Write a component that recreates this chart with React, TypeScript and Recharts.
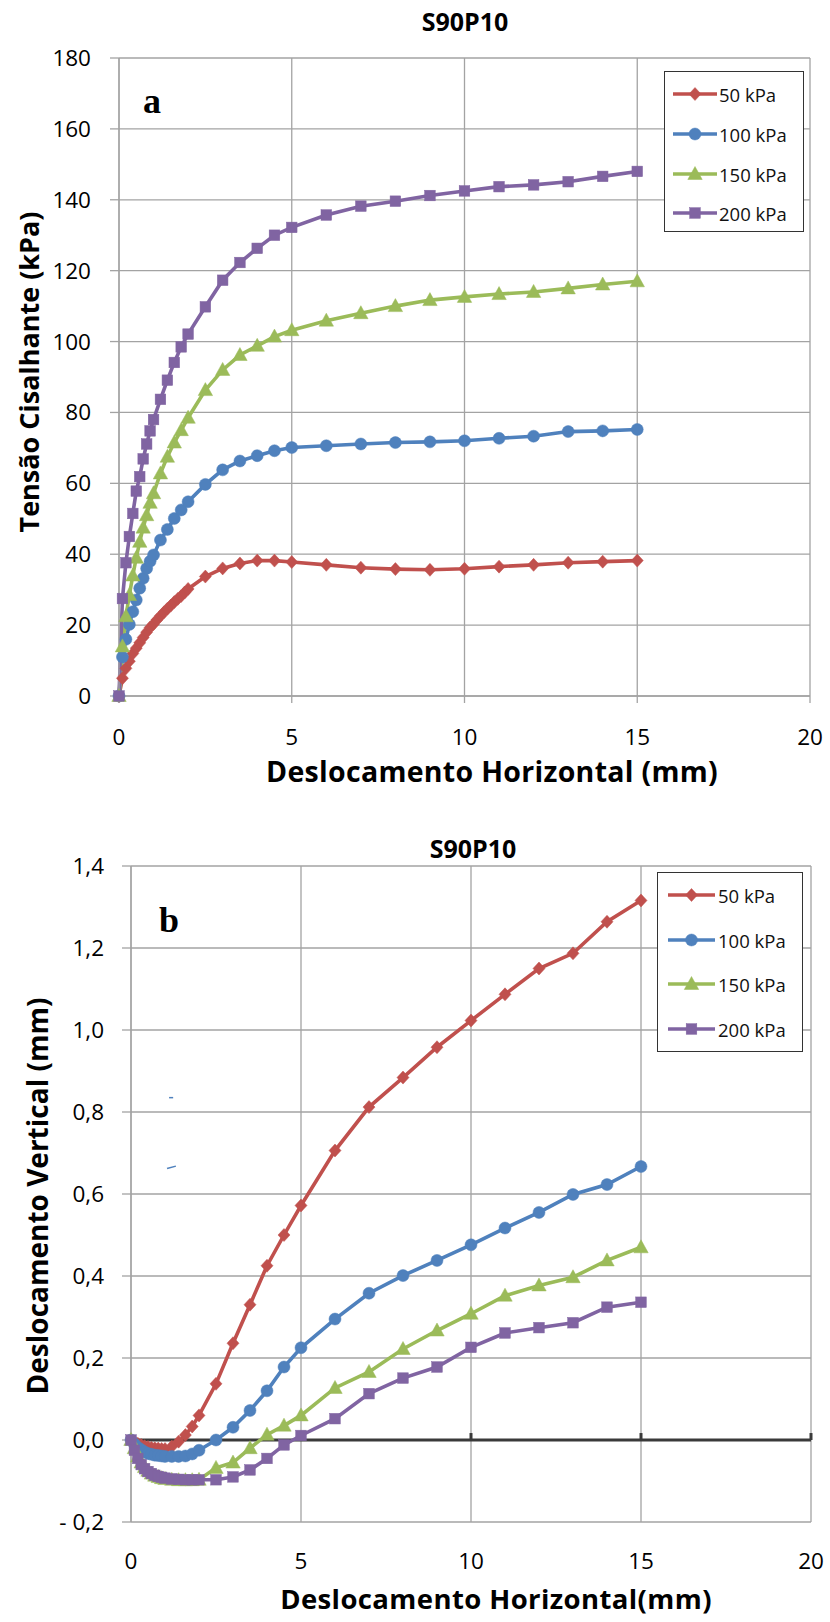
import React from 'react';
import { LineChart, Line, XAxis, YAxis, CartesianGrid, Legend, ReferenceLine } from 'recharts';

// ---------- Chart a : shear stress vs horizontal displacement ----------
const xShear = [0, 0.1, 0.2, 0.3, 0.4, 0.5, 0.6, 0.7, 0.8, 0.9, 1.0, 1.2, 1.4, 1.6, 1.8, 2.0, 2.5, 3, 3.5, 4, 4.5, 5, 6, 7, 8, 9, 10, 11, 12, 13, 14, 15];
const xShear50 = [0, 0.1, 0.2, 0.3, 0.4, 0.5, 0.6, 0.7, 0.8, 0.9, 1.0, 1.1, 1.2, 1.3, 1.4, 1.5, 1.6, 1.7, 1.8, 1.9, 2.0, 2.5, 3, 3.5, 4, 4.5, 5, 6, 7, 8, 9, 10, 11, 12, 13, 14, 15];
const shear50 = [0, 5, 7.8, 9.8, 12, 13.5, 15, 16.5, 18, 19.3, 20.3, 21.5, 22.6, 23.6, 24.6, 25.5, 26.5, 27.4, 28.2, 29.2, 30.2, 33.7, 36, 37.4, 38.2, 38.2, 37.8, 37, 36.2, 35.8, 35.6, 35.9, 36.5, 37, 37.6, 37.9, 38.2];
const shear100 = [0, 11, 16, 20.2, 23.8, 27.1, 30.4, 33.2, 36, 38, 39.8, 44, 47, 50.1, 52.5, 54.8, 59.7, 63.8, 66.3, 67.8, 69.2, 70.1, 70.6, 71.1, 71.5, 71.7, 72, 72.7, 73.3, 74.6, 74.8, 75.2];
const shear150 = [0, 14, 22.5, 28.5, 34, 39, 43.5, 47.5, 51, 54.5, 57.2, 62.8, 67.5, 71.5, 75, 78.5, 86.3, 92, 96.2, 98.8, 101.4, 103.2, 105.9, 108, 110, 111.7, 112.6, 113.4, 114, 115, 116.1, 117];
const shear200 = [0, 27.5, 37.6, 45, 51.5, 57.8, 61.9, 66.9, 71.1, 74.8, 78, 83.7, 89.1, 94.1, 98.5, 102.1, 109.8, 117.3, 122.3, 126.3, 130, 132.2, 135.7, 138.2, 139.6, 141.2, 142.5, 143.7, 144.2, 145.1, 146.6, 148];

// ---------- Chart b : vertical vs horizontal displacement ----------
const xVert = [0, 0.1, 0.2, 0.3, 0.4, 0.5, 0.6, 0.7, 0.8, 0.9, 1.0, 1.2, 1.4, 1.6, 1.8, 2.0, 2.5, 3, 3.5, 4, 4.5, 5, 6, 7, 8, 9, 10, 11, 12, 13, 14, 15];
const vert50 = [0, -0.005, -0.009, -0.012, -0.015, -0.017, -0.019, -0.02, -0.021, -0.022, -0.022, -0.016, -0.004, 0.012, 0.033, 0.06, 0.137, 0.236, 0.33, 0.425, 0.5, 0.572, 0.706, 0.812, 0.884, 0.958, 1.023, 1.087, 1.15, 1.187, 1.264, 1.316];
const vert100 = [0, -0.01, -0.018, -0.024, -0.029, -0.033, -0.035, -0.037, -0.038, -0.039, -0.04, -0.04, -0.04, -0.039, -0.034, -0.025, 0.0, 0.031, 0.072, 0.12, 0.178, 0.225, 0.295, 0.358, 0.401, 0.438, 0.476, 0.517, 0.555, 0.599, 0.623, 0.667];
const vert150 = [0, -0.02, -0.04, -0.055, -0.066, -0.075, -0.082, -0.087, -0.09, -0.093, -0.095, -0.097, -0.098, -0.098, -0.098, -0.097, -0.068, -0.055, -0.02, 0.013, 0.035, 0.06, 0.127, 0.166, 0.222, 0.267, 0.308, 0.352, 0.377, 0.397, 0.438, 0.47];
const vert200 = [0, -0.025, -0.045, -0.06, -0.07, -0.077, -0.082, -0.086, -0.089, -0.091, -0.093, -0.095, -0.096, -0.097, -0.097, -0.097, -0.097, -0.09, -0.073, -0.045, -0.012, 0.011, 0.052, 0.113, 0.151, 0.178, 0.226, 0.261, 0.274, 0.286, 0.324, 0.336];

const seriesNames = ['50 kPa', '100 kPa', '150 kPa', '200 kPa'];
const xTicks = [0, 5, 10, 15, 20];
const shearTicks = [0, 20, 40, 60, 80, 100, 120, 140, 160, 180];
const vertTicks = [-0.2, 0, 0.2, 0.4, 0.6, 0.8, 1.0, 1.2, 1.4];
const zeroLineTicks = [5, 10, 15, 20];
// two stray blue dashes visible in the original chart b
const strayDashA = [{ x: 1.12, y: 0.835 }, { x: 1.24, y: 0.835 }];
const strayDashB = [{ x: 1.06, y: 0.662 }, { x: 1.32, y: 0.668 }];

const COLORS = ['#C0504D', '#4F81BD', '#9BBB59', '#8064A2'];
const SHAPES = ['diamond', 'circle', 'triangle', 'square'];
const FONT = '"Open Sans", "DejaVu Sans", sans-serif';
const GRID = '#a3a3a3';

const toRows = (xs: number[], ys: number[]) => xs.map((x, i) => ({ x, y: ys[i] }));

function markerEl(shape: string, color: string, cx: number, cy: number, key?: string) {
  if (shape === 'diamond') {
    return <path key={key} d={`M${cx},${cy - 6.5}L${cx + 6},${cy}L${cx},${cy + 6.5}L${cx - 6},${cy}Z`} fill={color} stroke={color} strokeWidth={0.5} />;
  }
  if (shape === 'circle') {
    return <circle key={key} cx={cx} cy={cy} r={6} fill={color} stroke={color} strokeWidth={0.5} />;
  }
  if (shape === 'triangle') {
    return <path key={key} d={`M${cx},${cy - 7.5}L${cx + 7.2},${cy + 5.5}L${cx - 7.2},${cy + 5.5}Z`} fill={color} stroke={color} strokeWidth={0.5} />;
  }
  return <rect key={key} x={cx - 5.3} y={cy - 5.3} width={10.6} height={10.6} fill={color} stroke={color} strokeWidth={0.5} />;
}

const makeDot = (shape: string, color: string) => (props: any) => {
  const { cx, cy, index } = props;
  if (cx == null || cy == null) return <g key={`e-${index}`} />;
  return markerEl(shape, color, cx, cy, `d-${shape}-${index}`);
};

const makeLegend = (box: { w: number; h: number; rows: number[]; lineX1: number; lineX2: number; textX: number }) => () => (
  <div style={{ position: 'relative', width: box.w, height: box.h, border: '1.3px solid #333', background: '#fff', boxSizing: 'border-box' }}>
    {seriesNames.map((name, i) => (
      <div key={name} style={{ position: 'absolute', left: 0, top: box.rows[i] - 12, height: 24, width: box.w, display: 'flex', alignItems: 'center' }}>
        <svg width={box.textX} height={24} style={{ display: 'block' }}>
          <line x1={box.lineX1} x2={box.lineX2} y1={12} y2={12} stroke={COLORS[i]} strokeWidth={3.5} />
          {markerEl(SHAPES[i], COLORS[i], (box.lineX1 + box.lineX2) / 2, 12)}
        </svg>
        <span style={{ fontFamily: FONT, fontSize: 18.5, color: '#111', letterSpacing: 0, whiteSpace: 'nowrap' }}>{name}</span>
      </div>
    ))}
  </div>
);

const fmtComma = (v: number) => {
  const s = Math.abs(v).toFixed(1).replace('.', ',');
  return v < -1e-9 ? `- ${s}` : s;
};

const textStyleBase: React.CSSProperties = { position: 'absolute', fontFamily: FONT, color: '#000', whiteSpace: 'nowrap', lineHeight: 1 };

const centered = (x: number, y: number, extra: React.CSSProperties = {}): React.CSSProperties => ({
  ...textStyleBase,
  left: x,
  top: y,
  transform: 'translate(-50%, -50%)',
  ...extra,
});

const rotated = (x: number, y: number, extra: React.CSSProperties = {}): React.CSSProperties => ({
  ...textStyleBase,
  left: x,
  top: y,
  transform: 'translate(-50%, -50%) rotate(-90deg)',
  ...extra,
});

const tickStyle = { fill: '#000', fontSize: 22.5, fontFamily: FONT };

export default function App() {
  const shearSeries = [toRows(xShear50, shear50), toRows(xShear, shear100), toRows(xShear, shear150), toRows(xShear, shear200)];
  const vertSeries = [toRows(xVert, vert50), toRows(xVert, vert100), toRows(xVert, vert150), toRows(xVert, vert200)];

  return (
    <div style={{ position: 'absolute', left: 0, top: 0, width: 830, height: 1622, background: '#fff', overflow: 'hidden' }}>
      {/* ---------------- Chart a ---------------- */}
      <div style={{ position: 'absolute', left: 0, top: 0, width: 830, height: 800 }}>
        <LineChart width={830} height={800} margin={{ top: 58, right: 20, bottom: 0, left: 0 }}>
          <CartesianGrid stroke={GRID} strokeWidth={1.3} />
          <XAxis
            type="number"
            dataKey="x"
            domain={[0, 20]}
            ticks={xTicks}
            height={104}
            tick={tickStyle}
            tickSize={7}
            tickMargin={26}
            stroke={GRID}
            strokeWidth={1.3}
            allowDuplicatedCategory={false}
          />
          <YAxis
            type="number"
            domain={[0, 180]}
            ticks={shearTicks}
            width={119}
            tick={tickStyle}
            tickSize={9}
            tickMargin={19}
            stroke={GRID}
            strokeWidth={1.3}
          />
          {shearSeries.map((rows, i) => (
            <Line
              key={seriesNames[i]}
              data={rows}
              dataKey="y"
              name={seriesNames[i]}
              type="linear"
              stroke={COLORS[i]}
              strokeWidth={3.6}
              dot={makeDot(SHAPES[i], COLORS[i])}
              activeDot={false}
              isAnimationActive={false}
            />
          ))}
          <Legend
            layout="vertical"
            align="center"
            verticalAlign="middle"
            content={makeLegend({ w: 140, h: 161, rows: [22, 62, 102, 141], lineX1: 8, lineX2: 52, textX: 54 })}
            wrapperStyle={{ position: 'absolute', left: 664, top: 71, width: 140, height: 161, margin: 0 }}
          />
        </LineChart>
        <div style={centered(465, 21, { fontSize: 25, fontWeight: 700 })}>S90P10</div>
        <div style={centered(152, 101, { fontFamily: '"Liberation Serif", "DejaVu Serif", serif', fontSize: 36, fontWeight: 700 })}>a</div>
        <div style={centered(492, 771, { fontSize: 28.5, fontWeight: 700, letterSpacing: 0.3 })}>Deslocamento Horizontal (mm)</div>
        <div style={rotated(28, 372, { fontSize: 27, fontWeight: 700 })}>Tensão Cisalhante (kPa)</div>
      </div>

      {/* ---------------- Chart b ---------------- */}
      <div style={{ position: 'absolute', left: 0, top: 800, width: 830, height: 822 }}>
        <LineChart width={830} height={822} margin={{ top: 66, right: 19, bottom: 0, left: 0 }}>
          <CartesianGrid stroke={GRID} strokeWidth={1.3} />
          <XAxis
            type="number"
            dataKey="x"
            domain={[0, 20]}
            ticks={xTicks}
            height={100}
            tick={tickStyle}
            tickLine={false}
            axisLine={false}
            tickSize={0}
            tickMargin={31}
            allowDuplicatedCategory={false}
          />
          <YAxis
            type="number"
            domain={[-0.2, 1.4]}
            ticks={vertTicks}
            width={131}
            tick={tickStyle}
            tickSize={9}
            tickMargin={18}
            tickFormatter={fmtComma}
            stroke={GRID}
            strokeWidth={1.3}
          />
          <ReferenceLine y={0} stroke="#3a3a3a" strokeWidth={3} ifOverflow="visible" />
          {zeroLineTicks.map((t) => (
            <ReferenceLine
              key={`zt-${t}`}
              segment={[{ x: t, y: 0 }, { x: t, y: 0.017 }]}
              stroke="#3a3a3a"
              strokeWidth={3}
              ifOverflow="visible"
            />
          ))}
          <ReferenceLine segment={strayDashA} stroke="#4F81BD" strokeWidth={1.5} />
          <ReferenceLine segment={strayDashB} stroke="#4F81BD" strokeWidth={1.5} />
          {vertSeries.map((rows, i) => (
            <Line
              key={seriesNames[i]}
              data={rows}
              dataKey="y"
              name={seriesNames[i]}
              type="linear"
              stroke={COLORS[i]}
              strokeWidth={3.6}
              dot={makeDot(SHAPES[i], COLORS[i])}
              activeDot={false}
              isAnimationActive={false}
            />
          ))}
          <Legend
            layout="vertical"
            align="center"
            verticalAlign="middle"
            content={makeLegend({ w: 146, h: 180, rows: [22, 67, 111, 156], lineX1: 10, lineX2: 57, textX: 60 })}
            wrapperStyle={{ position: 'absolute', left: 657, top: 72, width: 146, height: 180, margin: 0 }}
          />
        </LineChart>
        <div style={centered(473, 48, { fontSize: 25, fontWeight: 700 })}>S90P10</div>
        <div style={centered(169, 120, { fontFamily: '"Liberation Serif", "DejaVu Serif", serif', fontSize: 36, fontWeight: 700 })}>b</div>
        <div style={centered(496, 799, { fontSize: 27.5, fontWeight: 700, letterSpacing: 0.4, lineHeight: 1.25 })}>Deslocamento Horizontal(mm)</div>
        <div style={rotated(37, 396, { fontSize: 28, fontWeight: 700 })}>Deslocamento Vertical (mm)</div>
      </div>
    </div>
  );
}
